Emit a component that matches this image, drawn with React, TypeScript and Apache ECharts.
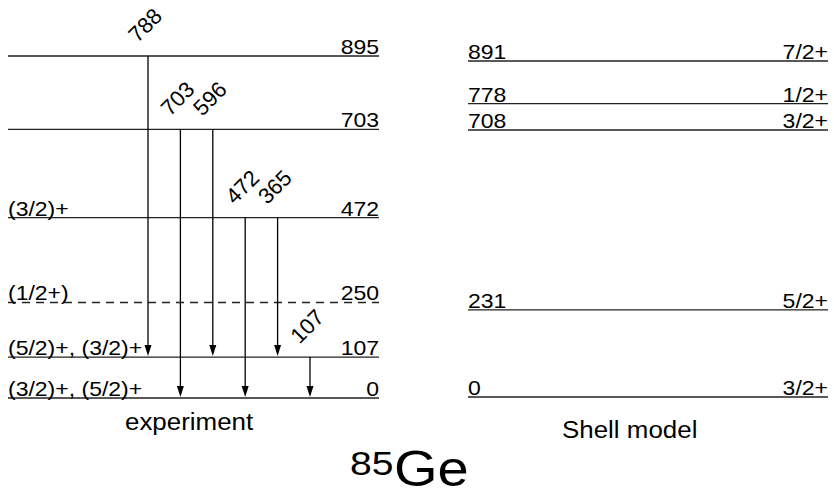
import React, { useEffect, useRef } from "react";
import * as echarts from "echarts";

// Experimental levels (keV) and spin assignments
const expEnergies = [0, 107, 250, 472, 703, 895];
const expSpins = ["(3/2)+, (5/2)+", "(5/2)+, (3/2)+", "(1/2+)", "(3/2)+", "", ""];
const expTentative = [false, false, true, false, false, false];

// Shell-model levels (keV) and spins
const shellEnergies = [0, 231, 708, 778, 891];
const shellSpins = ["3/2+", "5/2+", "3/2+", "1/2+", "7/2+"];

// Gamma transitions
const gammaEnergies = [788, 703, 596, 472, 365, 107];
const gammaFrom = [895, 703, 703, 472, 472, 107];
const gammaTo = [107, 0, 107, 0, 107, 0];

const FONT = "'Liberation Sans', Arial, Helvetica, sans-serif";
const INK = "#000";
const LEVEL = "#222";

export default function App() {
  const ref = useRef<HTMLDivElement>(null);

  useEffect(() => {
    document.body.style.margin = "0";
    const chart = echarts.init(ref.current!, undefined, { renderer: "svg" });

    const levelText = (text: string, x: number, y: number, align: string) => ({
      type: "text",
      x,
      y,
      scaleX: 1.15,
      style: {
        text,
        fontSize: 20,
        fontFamily: FONT,
        fill: INK,
        align,
        verticalAlign: "bottom",
      },
    });

    const titleText = (text: string, x: number, y: number, size: number, sx: number) => ({
      type: "text",
      x,
      y,
      scaleX: sx,
      style: {
        text,
        fontSize: size,
        fontFamily: FONT,
        fill: INK,
        align: "left",
        verticalAlign: "middle",
        textAlign: "left",
        textVerticalAlign: "middle",
      },
    });

    const option: any = {
      animation: false,
      backgroundColor: "#fff",
      grid: [
        { left: 8, right: 455, top: 56, bottom: 99 },
        { left: 468, right: 6, top: 61, bottom: 100 },
      ],
      xAxis: [
        { type: "value", gridIndex: 0, min: -4.321, max: 7.13, show: false },
        { type: "value", gridIndex: 1, min: 0, max: 1, show: false },
      ],
      yAxis: [
        { type: "value", gridIndex: 0, min: 0, max: 895, show: false },
        { type: "value", gridIndex: 1, min: 0, max: 891, show: false },
      ],
      series: [
        {
          type: "custom",
          name: "experiment",
          xAxisIndex: 0,
          yAxisIndex: 0,
          clip: false,
          encode: { x: 0, y: 1 },
          data: expEnergies.map((e) => [0, e]),
          renderItem: (params: any, api: any) => {
            const i = params.dataIndex;
            const E = api.value(1);
            const cs = params.coordSys;
            const y = api.coord([0, E])[1];
            const x0 = cs.x;
            const x1 = cs.x + cs.width;
            return {
              type: "group",
              children: [
                {
                  type: "line",
                  shape: { x1: x0, y1: y, x2: x1, y2: y },
                  style: {
                    stroke: LEVEL,
                    lineWidth: 1.4,
                    lineDash: expTentative[i] ? [8, 6] : null,
                  },
                },
                levelText(expSpins[i], x0, y + 1, "left"),
                levelText(String(E), x1, y + 1, "right"),
              ],
            };
          },
        },
        {
          type: "custom",
          name: "transitions",
          xAxisIndex: 0,
          yAxisIndex: 0,
          clip: false,
          encode: { x: 0, y: [1, 2] },
          data: gammaEnergies.map((g, i) => [i, gammaFrom[i], gammaTo[i], g]),
          renderItem: (params: any, api: any) => {
            const xi = api.value(0);
            const top = api.coord([xi, api.value(1)]);
            const bot = api.coord([xi, api.value(2)]);
            const x = top[0];
            const tip = bot[1] - 1;
            const headLen = 11;
            const headW = 3.5;
            return {
              type: "group",
              children: [
                {
                  type: "line",
                  shape: { x1: x, y1: top[1], x2: x, y2: tip - headLen + 2 },
                  style: { stroke: INK, lineWidth: 1.3 },
                },
                {
                  type: "polygon",
                  shape: {
                    points: [
                      [x, tip],
                      [x - headW, tip - headLen],
                      [x + headW, tip - headLen],
                    ],
                  },
                  style: { fill: INK },
                },
                {
                  type: "text",
                  x: x - 8,
                  y: top[1] - 10,
                  rotation: Math.PI / 4,
                  style: {
                    text: String(api.value(3)),
                    fontSize: 22,
                    fontFamily: FONT,
                    fill: INK,
                    align: "left",
                    verticalAlign: "bottom",
                  },
                },
              ],
            };
          },
        },
        {
          type: "custom",
          name: "shell model",
          xAxisIndex: 1,
          yAxisIndex: 1,
          clip: false,
          encode: { x: 0, y: 1 },
          data: shellEnergies.map((e) => [0, e]),
          renderItem: (params: any, api: any) => {
            const i = params.dataIndex;
            const E = api.value(1);
            const cs = params.coordSys;
            const y = api.coord([0, E])[1];
            const x0 = cs.x;
            const x1 = cs.x + cs.width;
            return {
              type: "group",
              children: [
                {
                  type: "line",
                  shape: { x1: x0, y1: y, x2: x1, y2: y },
                  style: { stroke: LEVEL, lineWidth: 1.4 },
                },
                levelText(String(E), x0, y + 1, "left"),
                levelText(shellSpins[i], x1, y + 1, "right"),
              ],
            };
          },
        },
      ],
      graphic: [
        titleText("experiment", 125, 421, 24, 1.08),
        titleText("Shell model", 562, 429, 24, 1.08),
        titleText("85", 350, 463, 34, 1.15),
        titleText("Ge", 394, 469, 50, 1.12),
      ],
    };

    chart.setOption(option);
    return () => chart.dispose();
  }, []);

  return <div ref={ref} style={{ width: 834, height: 497 }} />;
}
